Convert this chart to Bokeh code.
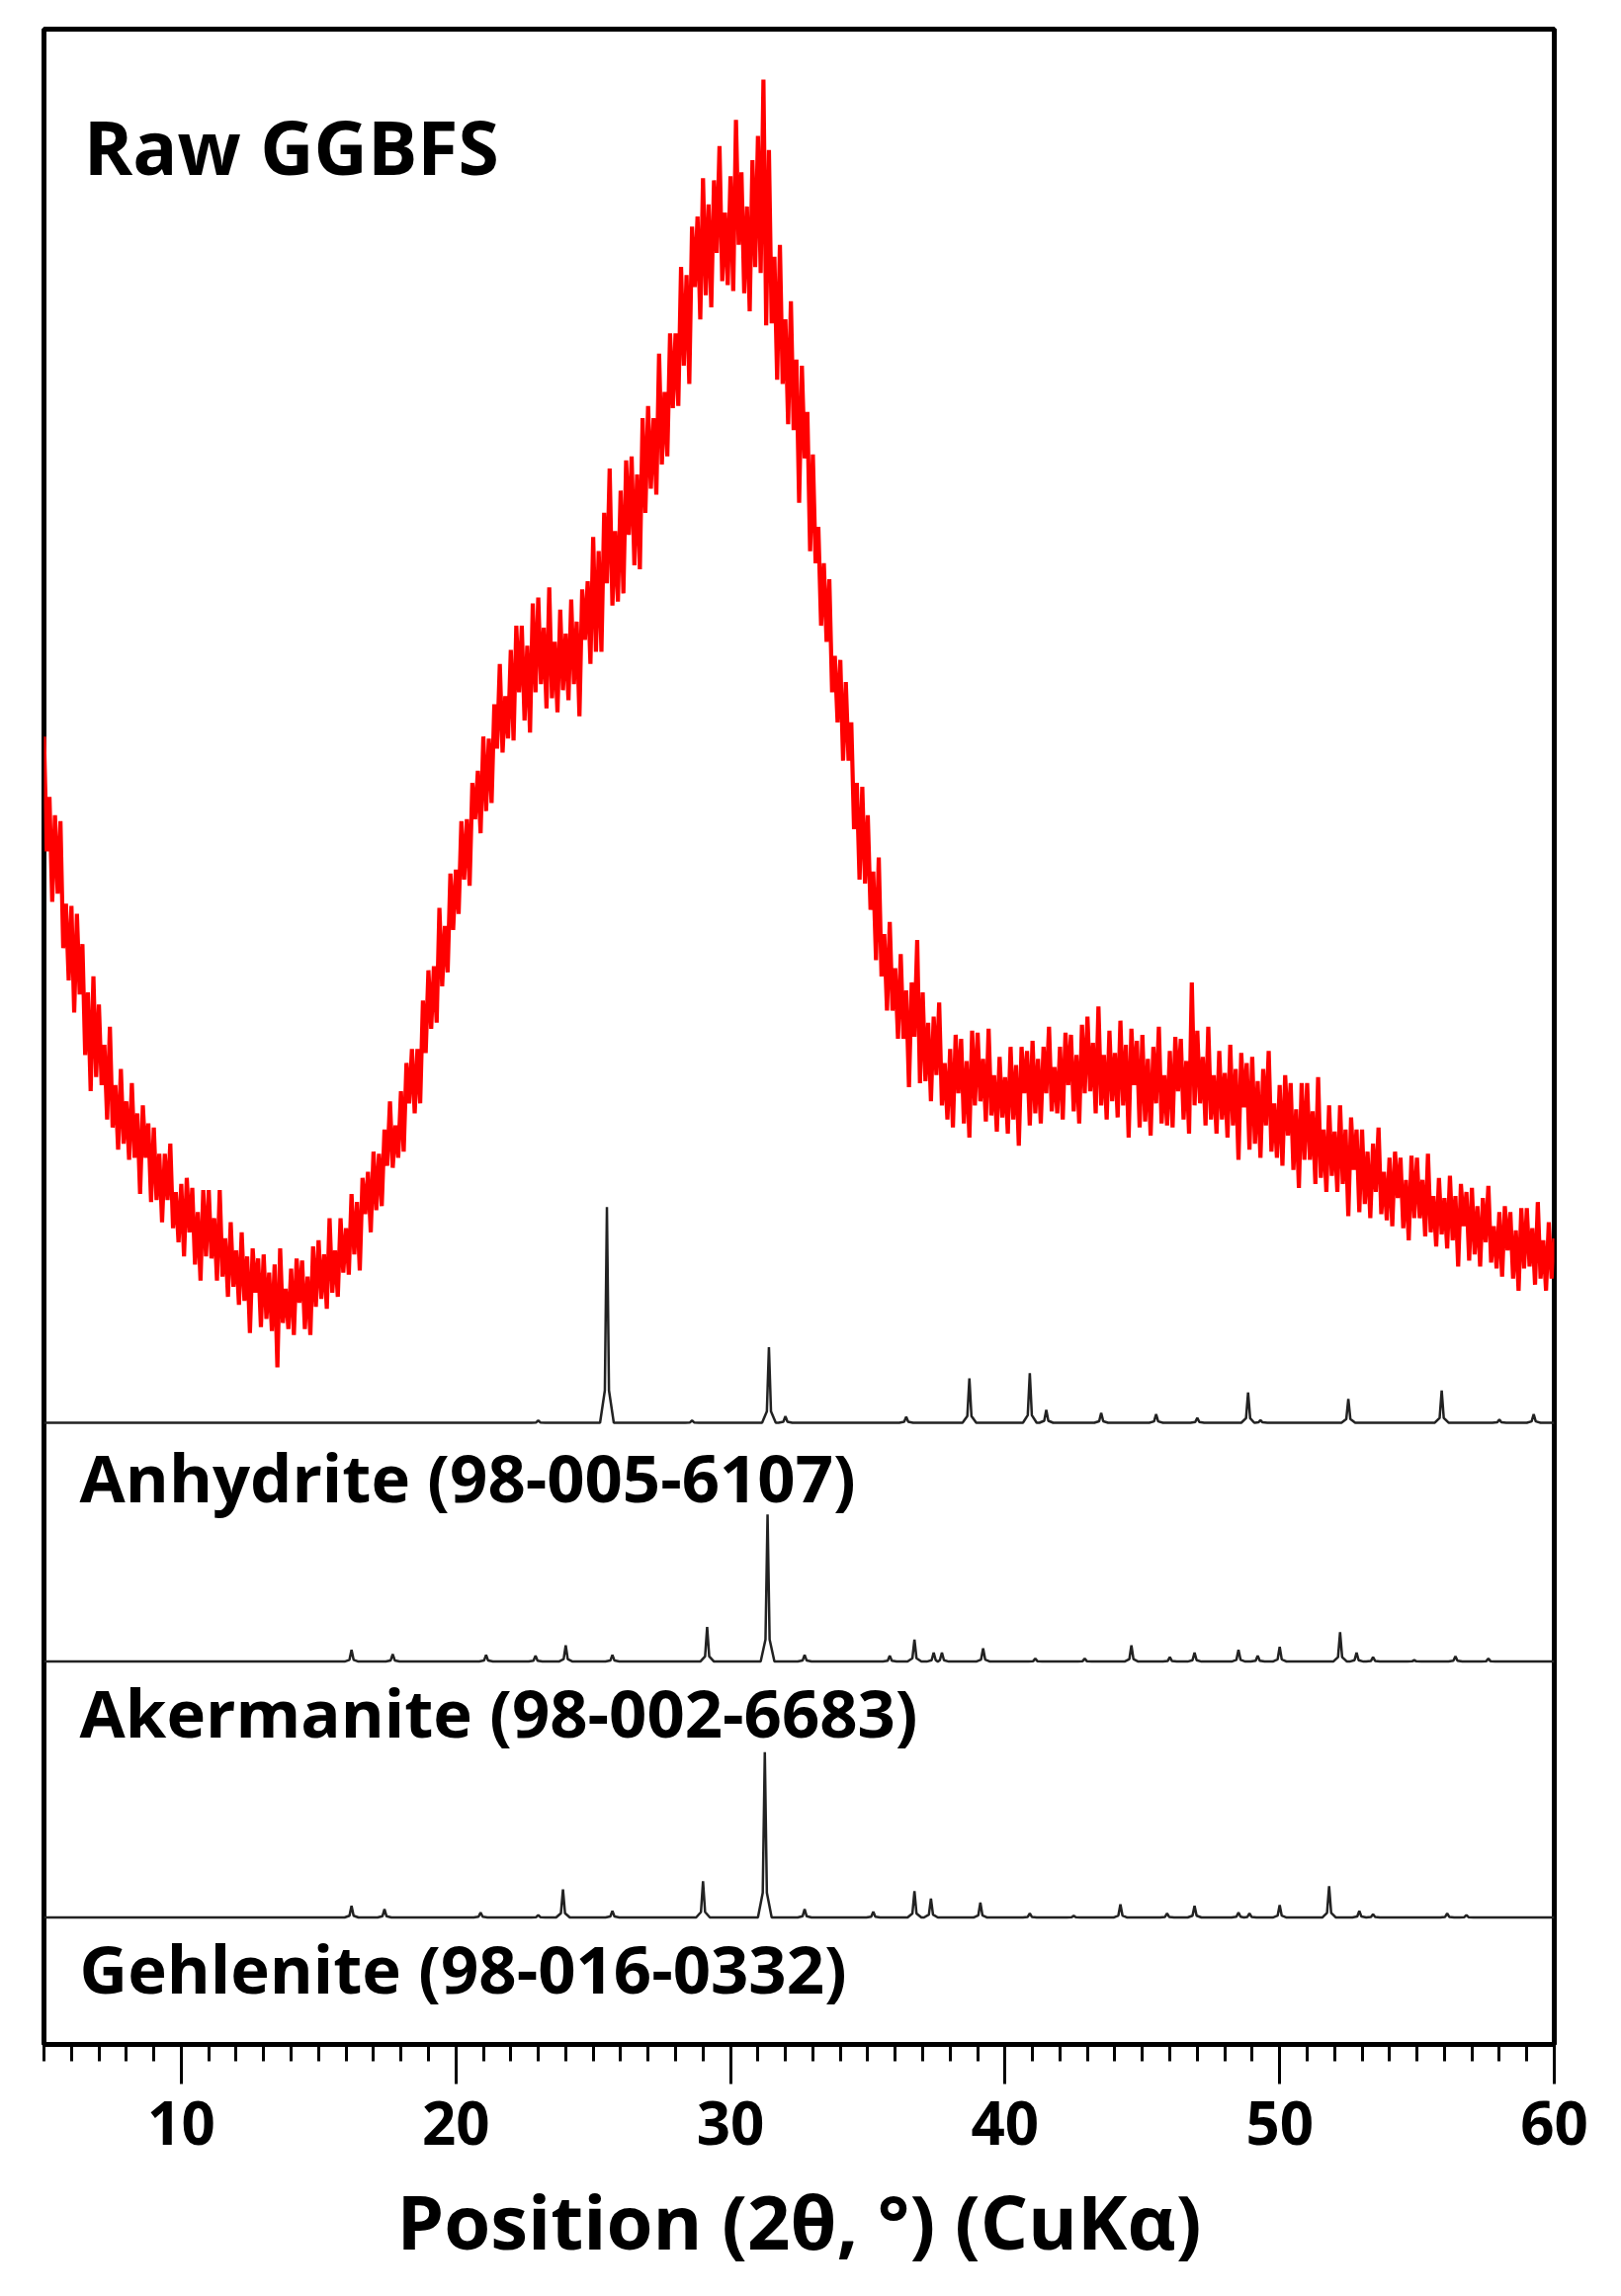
import numpy as np
from bokeh.plotting import figure
from bokeh.models import Range1d, SingleIntervalTicker, Label, ColumnDataSource
from bokeh.embed import file_html
from bokeh.resources import INLINE

# ---------------- data ----------------
# Raw GGBFS scan, read every 0.1 deg 2-theta from 5.0 to 60.0 (a.u.); one row per degree
raw_intensity = [
    649, 592, 619, 567, 610, 571, 607, 544, 566, 528,   # 5
    565, 512, 561, 521, 546, 491, 522, 473, 530, 480,   # 6
    516, 476, 496, 459, 505, 455, 476, 444, 484, 447,   # 7
    468, 439, 477, 440, 462, 422, 466, 440, 457, 418,   # 8
    455, 419, 442, 408, 442, 419, 447, 405, 423, 398,   # 9
    427, 391, 430, 403, 425, 387, 413, 379, 424, 391,   # 10
    424, 390, 410, 379, 424, 381, 400, 371, 408, 376,   # 11
    394, 367, 403, 369, 391, 353, 395, 373, 390, 356,   # 12
    392, 360, 383, 354, 387, 336, 395, 358, 375, 355,   # 13
    385, 352, 390, 368, 389, 355, 381, 352, 396, 366,   # 14
    399, 370, 392, 365, 410, 373, 394, 371, 410, 383,   # 15
    405, 382, 422, 392, 418, 384, 430, 412, 433, 403,   # 16
    443, 414, 442, 416, 454, 436, 468, 435, 456, 440,   # 17
    473, 443, 487, 467, 494, 462, 494, 467, 518, 492,   # 18
    533, 504, 535, 507, 564, 525, 555, 532, 581, 553,   # 19
    583, 561, 607, 578, 608, 575, 626, 608, 632, 601,   # 20
    649, 612, 648, 616, 665, 643, 685, 641, 669, 648,   # 21
    692, 647, 704, 671, 704, 657, 694, 651, 715, 671,   # 22
    718, 675, 703, 663, 723, 668, 696, 661, 712, 672,   # 23
    700, 667, 717, 675, 706, 659, 722, 697, 726, 685,   # 24
    748, 691, 741, 691, 760, 725, 782, 714, 751, 716,   # 25
    771, 720, 786, 749, 788, 734, 779, 732, 807, 760,   # 26
    813, 772, 807, 769, 839, 784, 820, 788, 849, 812,   # 27
    849, 813, 882, 833, 878, 824, 902, 872, 907, 856,   # 28
    926, 868, 913, 862, 925, 889, 942, 875, 909, 873,   # 29
    927, 870, 955, 893, 929, 869, 912, 860, 935, 882,   # 30
    947, 879, 975, 853, 940, 854, 887, 826, 893, 824,   # 31
    856, 804, 865, 801, 836, 765, 833, 787, 810, 741,   # 32
    789, 735, 753, 704, 735, 696, 727, 671, 689, 656,   # 33
    687, 637, 676, 637, 656, 603, 626, 578, 624, 576,   # 34
    610, 563, 582, 538, 589, 530, 551, 513, 557, 513,   # 35
    534, 499, 541, 499, 523, 475, 527, 500, 548, 477,   # 36
    522, 478, 507, 468, 510, 481, 517, 466, 487, 459,   # 37
    494, 455, 501, 472, 499, 457, 488, 450, 503, 466,   # 38
    502, 468, 489, 458, 504, 461, 481, 453, 490, 460,   # 39
    480, 452, 495, 459, 486, 446, 495, 472, 493, 456,   # 40
    498, 462, 489, 457, 495, 472, 505, 463, 485, 462,   # 41
    495, 459, 502, 476, 501, 463, 491, 457, 506, 472,   # 42
    510, 473, 497, 462, 515, 466, 491, 459, 503, 468,   # 43
    492, 460, 508, 466, 496, 450, 504, 476, 498, 455,   # 44
    501, 458, 489, 451, 495, 467, 505, 457, 481, 456,   # 45
    493, 455, 500, 473, 499, 459, 488, 452, 527, 466,   # 46
    503, 467, 490, 456, 505, 459, 481, 452, 493, 459,   # 47
    482, 450, 496, 456, 484, 439, 492, 465, 487, 444,   # 48
    490, 447, 478, 440, 484, 456, 493, 443, 467, 440,   # 49
    476, 436, 481, 451, 477, 434, 464, 425, 477, 439,   # 50
    477, 439, 463, 427, 480, 430, 454, 423, 466, 431,   # 51
    453, 423, 466, 427, 454, 411, 460, 434, 454, 413,   # 52
    454, 417, 443, 410, 447, 423, 455, 412, 433, 409,   # 53
    440, 406, 443, 420, 440, 405, 429, 399, 441, 410,   # 54
    440, 410, 429, 401, 442, 403, 421, 396, 430, 402,   # 55
    420, 395, 431, 399, 421, 386, 427, 406, 423, 389,   # 56
    425, 392, 416, 386, 420, 398, 426, 388, 406, 385,   # 57
    413, 381, 416, 394, 413, 380, 404, 374, 415, 385,   # 58
    415, 386, 405, 377, 418, 380, 399, 374, 408, 380,   # 59
    400,                                                # 60
]
raw_two_theta = np.linspace(5.0, 60.0, len(raw_intensity))

# Reference patterns: peak positions (2-theta) and relative intensities (%)
anhydrite_pos = [23.0, 25.5, 28.6, 31.4, 32.0, 36.4, 38.7, 40.9, 41.5, 43.5, 45.5, 47.0,
                 48.85, 49.3, 52.5, 55.9, 58.0, 59.25]
anhydrite_int = [1, 100, 1, 35, 3, 2.7, 20.6, 23, 6, 4.5, 4, 2.3, 14, 1.2, 11, 15, 1.5, 4]

akermanite_pos = [16.2, 17.7, 21.1, 22.9, 24.0, 25.7, 29.15, 31.35, 32.7, 35.8, 36.7, 37.4,
                  37.7, 39.2, 41.1, 42.9, 44.6, 46.0, 46.9, 48.5, 49.2, 50.0, 52.2, 52.8,
                  53.4, 54.9, 56.4, 57.6]
akermanite_int = [8, 5, 4.5, 4, 11, 4.5, 23.5, 100, 4.5, 4, 15, 6, 6, 9, 2, 2, 11, 3, 6, 8,
                  4, 10, 20, 6, 3, 1, 3.5, 2]

gehlenite_pos = [16.2, 17.4, 20.9, 23.0, 23.9, 25.7, 29.0, 31.25, 32.7, 35.2, 36.7, 37.3,
                 39.1, 40.9, 42.5, 44.2, 45.9, 46.9, 48.5, 48.9, 50.0, 51.8, 52.9, 53.4,
                 56.1, 56.8]
gehlenite_int = [7, 5, 3, 1.5, 17, 4, 22, 100, 5, 3.5, 16, 11.5, 9, 2.5, 1, 8, 2.5, 7, 3,
                 2.5, 7.5, 19, 4, 2, 2.5, 1.5]

# stacking: baseline offset and height of the 100 % peak (a.u.)
phase_names = ["Anhydrite (98-005-6107)", "Akermanite (98-002-6683)", "Gehlenite (98-016-0332)"]
phase_offsets = [308.5, 190, 63]
phase_scales = [107, 73, 82]
label_y = [282, 165, 38]

x_ticks_interval = 10


def stick_path(pos, inten, scale, base, w=0.25):
    xs, ys = [5.0], [base]
    n = len(pos)
    for i, (c, h) in enumerate(zip(pos, inten)):
        hh = h / 100.0 * scale
        lf = c - w if i == 0 else max(c - w, (pos[i - 1] + c) / 2)
        rf = c + w if i == n - 1 else min(c + w, (c + pos[i + 1]) / 2)
        xs += [lf, c - 0.3 * w, c, c + 0.3 * w, rf]
        ys += [base, base + 0.15 * hh, base + hh, base + 0.15 * hh, base]
    xs.append(60.0)
    ys.append(base)
    return xs, ys


p = figure(frame_width=1528, frame_height=2039,
           x_range=Range1d(5, 60), y_range=Range1d(0, 1000),
           output_backend="svg", toolbar_location=None,
           min_border_left=44, min_border_top=29, min_border_right=48, min_border_bottom=10)

p.background_fill_color = "white"
p.border_fill_color = "white"
p.grid.visible = False
p.yaxis.visible = False
p.outline_line_color = "black"
p.outline_line_width = 5

# raw GGBFS trace
src = ColumnDataSource(dict(x=raw_two_theta, y=raw_intensity))
p.line(x="x", y="y", source=src, line_color="#ff0000", line_width=4.2)

# reference stick patterns
patterns = [(anhydrite_pos, anhydrite_int), (akermanite_pos, akermanite_int),
            (gehlenite_pos, gehlenite_int)]
for (pos, inten), off, sc in zip(patterns, phase_offsets, phase_scales):
    xs, ys = stick_path(pos, inten, sc, off)
    p.line(xs, ys, line_color="#222222", line_width=2.5)

# labels
p.add_layout(Label(x=6.45, y=942, text="Raw GGBFS", text_font="Open Sans",
                   text_font_style="bold", text_font_size="75px",
                   text_baseline="alphabetic", text_color="black"))
for name, ly in zip(phase_names, label_y):
    p.add_layout(Label(x=6.3, y=ly, text=name, text_font="Open Sans",
                       text_font_style="bold", text_font_size="67px",
                       text_baseline="alphabetic", text_color="black"))

# x axis
ax = p.xaxis[0]
ax.ticker = SingleIntervalTicker(interval=x_ticks_interval, num_minor_ticks=10)
ax.axis_line_width = 5
ax.axis_line_color = "black"
ax.major_tick_line_width = 3
ax.minor_tick_line_width = 3
ax.major_tick_line_color = "black"
ax.minor_tick_line_color = "black"
ax.major_tick_in = 0
ax.major_tick_out = 40
ax.minor_tick_in = 0
ax.minor_tick_out = 17
ax.major_label_text_font = "Open Sans"
ax.major_label_text_font_style = "bold"
ax.major_label_text_font_size = "60px"
ax.major_label_text_color = "black"
ax.major_label_standoff = 17
ax.axis_label = "Position (2θ, °) (CuKα)"
ax.axis_label_text_font = "Open Sans"
ax.axis_label_text_font_style = "bold"
ax.axis_label_text_font_size = "76px"
ax.axis_label_text_color = "black"
ax.axis_label_standoff = 22

open("out.html", "w").write(file_html(p, INLINE))
